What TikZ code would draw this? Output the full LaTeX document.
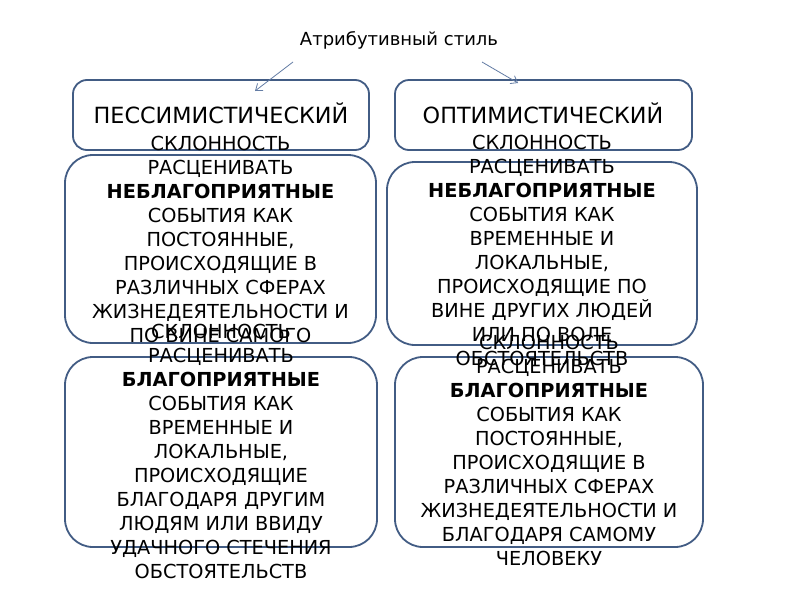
\documentclass[tikz,border=0pt]{standalone}
\usepackage{fontspec}
\setmainfont{DejaVu Sans}
\usepackage{tikz}
\usetikzlibrary{positioning,arrows.meta}
\definecolor{boxline}{RGB}{66,92,132}
\definecolor{arrline}{RGB}{100,125,165}
\tikzset{
  frame/.style={draw=boxline,line width=1.8pt,inner sep=0pt,rounded corners=#1},
  frame/.default=28pt,
  body/.style={inner sep=0pt,align=center,font=\fontsize{19.3}{24}\selectfont},
  head/.style={inner sep=0pt,font=\fontsize{22.3}{24}\selectfont},
  pointer/.style={-{Straight Barb[length=6pt,width=9pt]},arrline,line width=0.8pt}
}
\begin{document}
\begin{tikzpicture}[x=1pt,y=-1pt]
\useasboundingbox[fill=white] (0,0) rectangle (800,600);
\node[inner sep=0pt,font=\fontsize{18}{20}\selectfont] (title) at (399,40) {Атрибутивный стиль};
\node[frame=14pt,minimum width=296pt,minimum height=70pt] (pes) at (221,115) {};
\node[frame=14pt,minimum width=297pt,minimum height=70pt] (opt) at (543.5,115) {};
\node[frame,minimum width=311pt,minimum height=188pt] (pesneg) at (220.5,249) {};
\node[frame,minimum width=310pt,minimum height=183pt] (optneg) at (542,253.5) {};
\node[frame,minimum width=312pt,minimum height=190pt] (pespos) at (221,452) {};
\node[frame,minimum width=308pt,minimum height=190pt] (optpos) at (549,452) {};
\node[head] (pest) at (221,113) {ПЕССИМИСТИЧЕСКИЙ};
\node[head] (optt) at (543,113) {ОПТИМИСТИЧЕСКИЙ};
\node[body] (pesnegt) at (220.5,239) {СКЛОННОСТЬ\\РАСЦЕНИВАТЬ\\\textbf{НЕБЛАГОПРИЯТНЫЕ}\\СОБЫТИЯ КАК\\ПОСТОЯННЫЕ,\\ПРОИСХОДЯЩИЕ В\\РАЗЛИЧНЫХ СФЕРАХ\\ЖИЗНЕДЕЯТЕЛЬНОСТИ И\\ПО ВИНЕ САМОГО};
\node[body] (optnegt) at (542,250.5) {СКЛОННОСТЬ\\РАСЦЕНИВАТЬ\\\textbf{НЕБЛАГОПРИЯТНЫЕ}\\СОБЫТИЯ КАК\\ВРЕМЕННЫЕ И\\ЛОКАЛЬНЫЕ,\\ПРОИСХОДЯЩИЕ ПО\\ВИНЕ ДРУГИХ ЛЮДЕЙ\\ИЛИ ПО ВОЛЕ\\ОБСТОЯТЕЛЬСТВ};
\node[body] (pespost) at (221,451.5) {СКЛОННОСТЬ\\РАСЦЕНИВАТЬ\\\textbf{БЛАГОПРИЯТНЫЕ}\\СОБЫТИЯ КАК\\ВРЕМЕННЫЕ И\\ЛОКАЛЬНЫЕ,\\ПРОИСХОДЯЩИЕ\\БЛАГОДАРЯ ДРУГИМ\\ЛЮДЯМ ИЛИ ВВИДУ\\УДАЧНОГО СТЕЧЕНИЯ\\ОБСТОЯТЕЛЬСТВ};
\node[body] (optpost) at (549,450.5) {СКЛОННОСТЬ\\РАСЦЕНИВАТЬ\\\textbf{БЛАГОПРИЯТНЫЕ}\\СОБЫТИЯ КАК\\ПОСТОЯННЫЕ,\\ПРОИСХОДЯЩИЕ В\\РАЗЛИЧНЫХ СФЕРАХ\\ЖИЗНЕДЕЯТЕЛЬНОСТИ И\\БЛАГОДАРЯ САМОМУ\\ЧЕЛОВЕКУ};
\coordinate (la) at (293,62);
\coordinate (ra) at (482,62);
\coordinate (lb) at (255,91);
\coordinate (rb) at (518,83);
\draw[pointer] (la) -- (lb);
\draw[pointer] (ra) -- (rb);
\end{tikzpicture}
\end{document}
